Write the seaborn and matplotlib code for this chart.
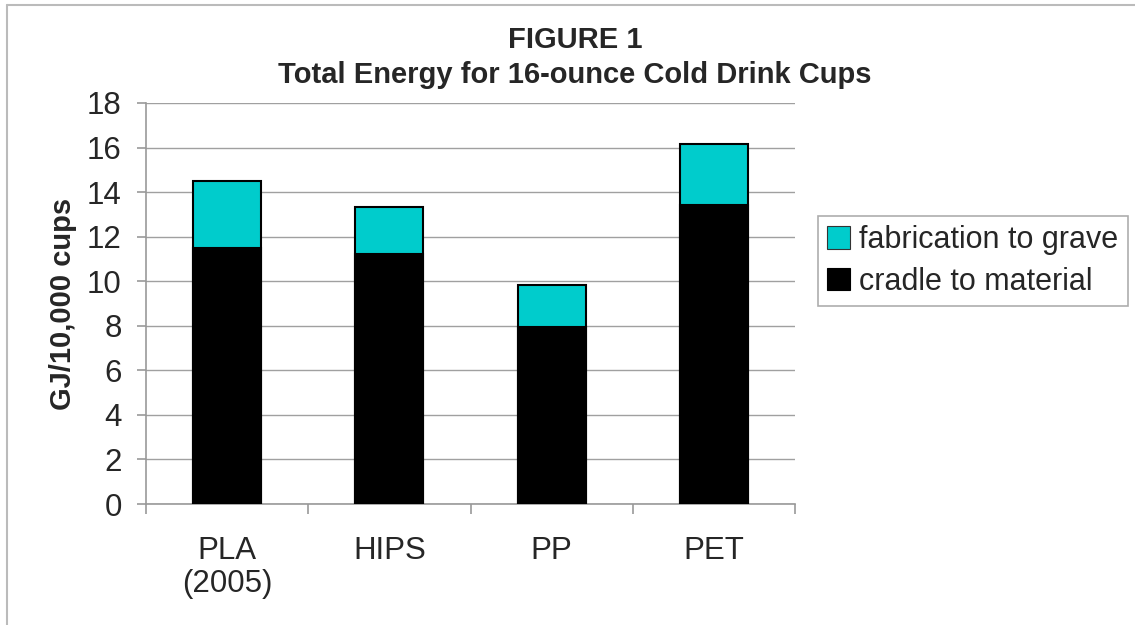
import matplotlib
matplotlib.use("Agg")
import matplotlib.pyplot as plt
from matplotlib.lines import Line2D
from matplotlib.patches import Patch
import pandas as pd
import seaborn as sns

categories = ["PLA\n(2005)", "HIPS", "PP", "PET"]
cradle_to_material = [11.5, 11.2, 7.95, 13.4]
fabrication_to_grave = [3.0, 2.15, 1.9, 2.75]

df = pd.DataFrame({"cup": categories,
                   "cradle": cradle_to_material,
                   "fab": fabrication_to_grave})
df["total"] = df["cradle"] + df["fab"]

sns.set_theme(style="white")
plt.rcParams["font.family"] = ["Liberation Sans", "DejaVu Sans"]

fig = plt.figure(figsize=(11.35, 6.25), dpi=100)
ax = fig.add_axes([146 / 1135, 1 - 504 / 625, 649 / 1135, 401 / 625])

cyan = "#00CCCC"
sns.barplot(data=df, x="cup", y="total", color=cyan, width=0.42,
            edgecolor="black", linewidth=1.5, saturation=1, ax=ax, zorder=3)
sns.barplot(data=df, x="cup", y="cradle", color="black", width=0.42,
            edgecolor="black", linewidth=1.5, saturation=1, ax=ax, zorder=3)

ax.set_xlim(-0.5, 3.5)
ax.set_ylim(0, 18)
ax.set_yticks(range(0, 19, 2))
ax.yaxis.grid(True, color="#A0A0A0", linewidth=1)
ax.set_axisbelow(True)

for s in ["top", "right"]:
    ax.spines[s].set_visible(False)
for s in ["left", "bottom"]:
    ax.spines[s].set_color("#999999")
    ax.spines[s].set_linewidth(1.2)

ax.tick_params(axis="y", labelsize=22.5, length=6.5, width=1.2, color="#999999",
               direction="out", pad=11, left=True)
ax.set_xticks([-0.5, 0.5, 1.5, 2.5, 3.5], minor=True)
ax.tick_params(axis="x", which="minor", length=7, width=1.2, color="#999999",
               direction="out", bottom=True)
ax.tick_params(axis="x", which="major", length=0, labelsize=22.5, pad=23)
for lab in ax.get_xticklabels():
    lab.set_linespacing(1.15)

ax.set_xlabel("")
ax.set_ylabel("GJ/10,000 cups", fontsize=21, fontweight="bold")
ax.yaxis.set_label_coords(-0.106, 0.5)

fig.text(575 / 1135, 1 - 40 / 625, "FIGURE 1", ha="center", va="center",
         fontsize=21, fontweight="bold")
fig.text(575 / 1135, 1 - 75 / 625, "Total Energy for 16-ounce Cold Drink Cups",
         ha="center", va="center", fontsize=21, fontweight="bold")

handles = [Patch(facecolor=cyan, edgecolor="#333333", linewidth=0.8),
           Patch(facecolor="black", edgecolor="black", linewidth=0.8)]
leg = fig.legend(handles, ["fabrication to grave", "cradle to material"],
                 loc="upper left", bbox_to_anchor=(818 / 1135, 1 - 216 / 625),
                 fontsize=22, frameon=True, fancybox=False, edgecolor="#999999",
                 handlelength=0.75, handleheight=0.75, handletextpad=0.3,
                 labelspacing=0.38, borderpad=0.3, borderaxespad=0)
leg.get_frame().set_linewidth(1.2)

fig.add_artist(Line2D([7 / 1135, 7 / 1135], [0, 1 - 5 / 625],
                      color="#BBBBBB", linewidth=1.5))
fig.add_artist(Line2D([7 / 1135, 1], [1 - 5 / 625, 1 - 5 / 625],
                      color="#BBBBBB", linewidth=1.5))

fig.savefig("out.png", dpi=100)
